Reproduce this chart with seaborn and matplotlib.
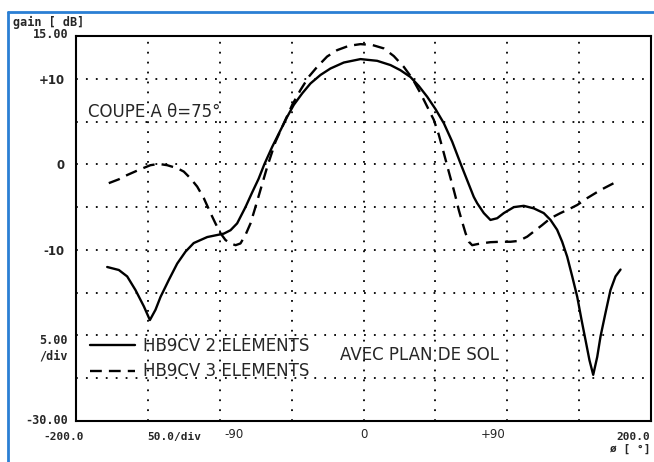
import numpy as np
import pandas as pd
import matplotlib
matplotlib.use("Agg")
import matplotlib.pyplot as plt
from matplotlib.lines import Line2D
import seaborn as sns

# solid curve: HB9CV 2 elements  (phi in deg, gain in dB)
phi_2el = [-178.3, -170.2, -164.4, -158.6, -152.8, -148.6, -144.7, -141.2, -135.4, -129.6,
           -123.8, -118.1, -108.7, -97.2, -92.5, -87.9, -82.1, -77.5, -73, -69,
           -63.5, -57.7, -53.1, -48.5, -42.6, -36.9, -29.9, -23, -13.7, -2.1,
           9.5, 18.8, 25.7, 32.7, 38.5, 44.3, 50.1, 55.9, 61.7, 67.5,
           72.1, 76.7, 79.1, 83.7, 88.3, 93, 97.6, 104.6, 111.5, 118.5,
           125.4, 130.1, 134.7, 138.2, 141.7, 145.2, 148.7, 151.7, 154.4, 157.2,
           159.8, 162.6, 164.9, 168.3, 171.8, 175.3, 178.8]
gain_2el = [-12.0, -12.35, -13.1, -14.7, -16.6, -18.2, -17.0, -15.5, -13.5, -11.6,
            -10.2, -9.2, -8.5, -8.1, -7.7, -6.9, -5.0, -3.3, -1.7, 0.0,
            2.05, 4.0, 5.55, 6.95, 8.3, 9.45, 10.45, 11.2, 11.9, 12.3,
            12.1, 11.6, 11.0, 10.2, 9.15, 7.9, 6.45, 4.8, 2.65, 0.1,
            -1.85, -3.8, -4.55, -5.7, -6.5, -6.3, -5.7, -5.0, -4.85, -5.15,
            -5.7, -6.5, -7.65, -9.05, -10.8, -13.1, -15.5, -18.2, -20.5, -22.9,
            -24.6, -22.5, -20.1, -17.4, -14.7, -13.1, -12.3]

# dashed curve: HB9CV 3 elements
phi_3el = [-177.2, -170.2, -164.4, -156.3, -148.2, -142.4, -136.6, -129.6, -125, -120.3,
           -115.7, -111.1, -106.4, -103, -99.5, -96, -92.5, -89, -85.6, -82.1,
           -78.6, -75.1, -71.7, -67, -61.2, -55.4, -49.6, -43.8, -38, -32.2,
           -25.3, -18.3, -10.2, -2.1, 6.1, 14.1, 21.1, 28, 33.9, 39.7,
           44.3, 48.9, 52.4, 55.9, 59.3, 62.8, 64.8, 66.3, 68.6, 71,
           73.3, 75.6, 81.4, 88.3, 95.3, 102.3, 108, 113.9, 118.5, 124.3,
           130.1, 137, 144, 148.7, 155.6, 164.9, 174.1]
gain_3el = [-2.2, -1.75, -1.25, -0.65, -0.1, 0.05, -0.1, -0.45, -0.85, -1.65,
            -2.6, -3.95, -5.7, -6.9, -8.05, -8.85, -9.25, -9.45, -9.25, -8.25,
            -6.9, -4.95, -3.0, -0.3, 2.65, 4.8, 6.95, 8.7, 10.25, 11.4,
            12.6, 13.35, 13.85, 14.05, 13.95, 13.55, 12.65, 11.4, 10.05, 8.3,
            6.75, 5.2, 3.45, 1.3, -0.85, -3.0, -4.3, -5.35, -6.7, -8.05,
            -9.05, -9.45, -9.25, -9.1, -9.05, -9.05, -8.95, -8.45, -7.85, -7.1,
            -6.3, -5.7, -5.15, -4.75, -3.95, -3.0, -2.2]

x_ticks = [-90, 0, 90]
x_ticklabels = ["-90", "0", "+90"]
y_ticks = [10, 0, -10]
y_ticklabels = ["+10", "0", "-10"]

df2 = pd.DataFrame({"phi": phi_2el, "gain": gain_2el})
df3 = pd.DataFrame({"phi": phi_3el, "gain": gain_3el})

sns.set_style("white")
plt.rcParams["font.family"] = ["DejaVu Sans"]

W, H = 654, 462
fig = plt.figure(figsize=(W / 100, H / 100), dpi=100)
ax = fig.add_axes([76 / W, 1 - 421 / H, 575 / W, 385 / H])

sns.lineplot(data=df2, x="phi", y="gain", ax=ax, color="black", lw=1.7,
             sort=False, label="HB9CV 2 ELEMENTS")
sns.lineplot(data=df3, x="phi", y="gain", ax=ax, color="black", lw=1.7,
             sort=False, label="HB9CV 3 ELEMENTS")
ax.lines[1].set_dashes([5, 3])

ax.set_xlim(-200, 200)
ax.set_ylim(-30, 15)

# dotted grid every 50 deg / 5 dB
for gx in np.arange(-150, 200, 50):
    ax.axvline(gx, color="black", lw=1.3, ls=(0, (1, 4.5)), zorder=0)
for gy in np.arange(-25, 15, 5):
    ax.axhline(gy, color="black", lw=1.3, ls=(0, (1, 4.5)), zorder=0)

for s in ax.spines.values():
    s.set_color("black")
    s.set_linewidth(1.5)

ax.set_xticks(x_ticks)
ax.set_xticklabels(x_ticklabels, fontsize=8.5)
ax.set_yticks(y_ticks)
ax.set_yticklabels(y_ticklabels, fontsize=8.5, fontweight="bold")
ax.tick_params(axis="x", direction="in", length=6, width=1.3, pad=5)
ax.tick_params(axis="y", direction="in", length=0, pad=8)
ax.set_xlabel("")
ax.set_ylabel("")

leg = ax.legend(loc="upper left", bbox_to_anchor=(0.01, 0.24), frameon=False,
                fontsize=12, handlelength=2.7, handletextpad=0.45,
                labelspacing=0.45, borderpad=0)
for h in leg.legend_handles:
    h.set_linewidth(1.7)

ax.text(-192, 6.1, "COUPE A θ=75°", fontsize=12, va="center", ha="left")
ax.text(-16, -22.3, "AVEC PLAN DE SOL", fontsize=12, va="center", ha="left")

mono = dict(family="DejaVu Sans Mono", fontweight="bold", fontsize=8.5)
mono_s = dict(family="DejaVu Sans Mono", fontweight="bold", fontsize=8)


def ftext(px, py, s, ha="left", **kw):
    fig.text(px / W, 1 - py / H, s, ha=ha, va="center", **kw)


ftext(13, 22, "gain [ dB]", **mono)
ftext(68, 35, "15.00", ha="right", **mono)
ftext(68, 340, "5.00", ha="right", **mono)
ftext(68, 356, "/div", ha="right", **mono)
ftext(68, 421, "-30.00", ha="right", **mono)
ftext(43, 437, "-200.0", **mono_s)
ftext(147, 437, "50.0/div", **mono_s)
ftext(650, 437, "200.0", ha="right", **mono_s)
ftext(650, 449, "ø [ °]", ha="right", **mono_s)

# blue scan frame
fig.add_artist(Line2D([8 / W, 1], [1 - 12 / H, 1 - 12 / H], transform=fig.transFigure,
                      color="#2a7fd4", lw=2))
fig.add_artist(Line2D([8 / W, 8 / W], [0, 1 - 12 / H], transform=fig.transFigure,
                      color="#2a7fd4", lw=2))

fig.savefig("out.png", dpi=100)
